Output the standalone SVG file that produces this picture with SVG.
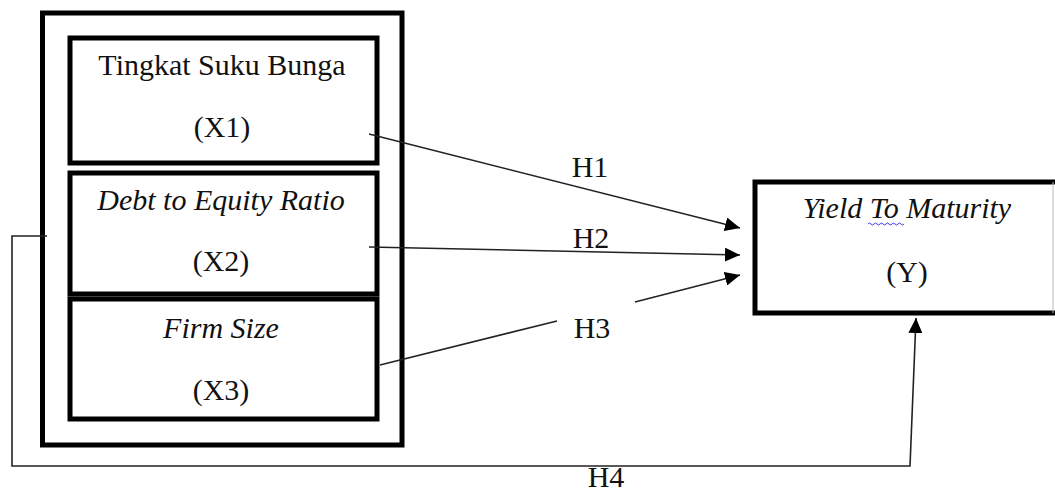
<svg xmlns="http://www.w3.org/2000/svg" width="1055" height="493" viewBox="0 0 1055 493">
  <style>
    .box { fill: #fff; stroke: #000; stroke-width: 5; }
    .outer { fill: none; stroke: #000; stroke-width: 5; }
    .lbl { font-family: "Liberation Serif", Tinos, "Times New Roman", "DejaVu Serif", serif; font-size: 30px; fill: #111; text-anchor: middle; }
    .it { font-style: italic; }
    .conn { fill: none; stroke: #222; stroke-width: 1.6; }
  </style>
  <defs>
    <marker id="arrow" viewBox="0 0 15 14" refX="15" refY="7" markerWidth="15" markerHeight="14" markerUnits="userSpaceOnUse" orient="auto">
      <path d="M0,0 L15,7 L0,14 Z" fill="#000"/>
    </marker>
  </defs>
  <rect width="1055" height="493" fill="#fff"/>

  <!-- frame around the independent variables -->
  <g id="frame">
    <rect class="outer" x="42.5" y="13" width="359.5" height="432"/>
  </g>

  <g id="x1">
    <rect class="box" x="70" y="38" width="307" height="125"/>
    <text class="lbl" x="222" y="75" font-family="Liberation Serif">Tingkat Suku Bunga</text>
    <text class="lbl" x="222" y="137" font-family="Liberation Serif">(X1)</text>
  </g>

  <g id="x2">
    <rect class="box" x="70" y="173" width="307" height="121"/>
    <text class="lbl it" x="221" y="210" font-family="Liberation Serif">Debt to Equity Ratio</text>
    <text class="lbl" x="221" y="271" font-family="Liberation Serif">(X2)</text>
  </g>

  <g id="x3">
    <rect class="box" x="70" y="299" width="307" height="120"/>
    <text class="lbl it" x="221" y="338" font-family="Liberation Serif">Firm Size</text>
    <text class="lbl" x="221" y="400" font-family="Liberation Serif">(X3)</text>
  </g>

  <g id="y">
    <rect class="box" x="755" y="182" width="305" height="131"/>
    <line x1="1053" y1="182" x2="1053" y2="313" stroke="#bbb" stroke-width="1"/>
    <text class="lbl it" x="907" y="218" font-family="Liberation Serif">Yield To Maturity</text>
    <path d="M868,224 q1.5,-2 3,0 t3,0 t3,0 t3,0 t3,0 t3,0 t3,0 t3,0 t3,0 t3,0 t3,0 t3,0" fill="none" stroke="#3a3af0" stroke-width="1"/>
    <text class="lbl" x="907" y="282" font-family="Liberation Serif">(Y)</text>
  </g>

  <g id="connectors">
    <line class="conn" x1="369" y1="134" x2="740" y2="228" marker-end="url(#arrow)"/>
    <line class="conn" x1="369" y1="247" x2="740" y2="255" marker-end="url(#arrow)"/>
    <line class="conn" x1="380" y1="365" x2="557" y2="321"/>
    <line class="conn" x1="635" y1="302" x2="740" y2="275" marker-end="url(#arrow)"/>
    <polyline class="conn" points="47,236 12,236 12,466 910,466 916,318" marker-end="url(#arrow)"/>
    <text class="lbl" x="590" y="177" font-family="Liberation Serif">H1</text>
    <text class="lbl" x="591" y="248" font-family="Liberation Serif">H2</text>
    <text class="lbl" x="592" y="338" font-family="Liberation Serif">H3</text>
    <text class="lbl" x="606" y="487" font-family="Liberation Serif">H4</text>
  </g>
</svg>
